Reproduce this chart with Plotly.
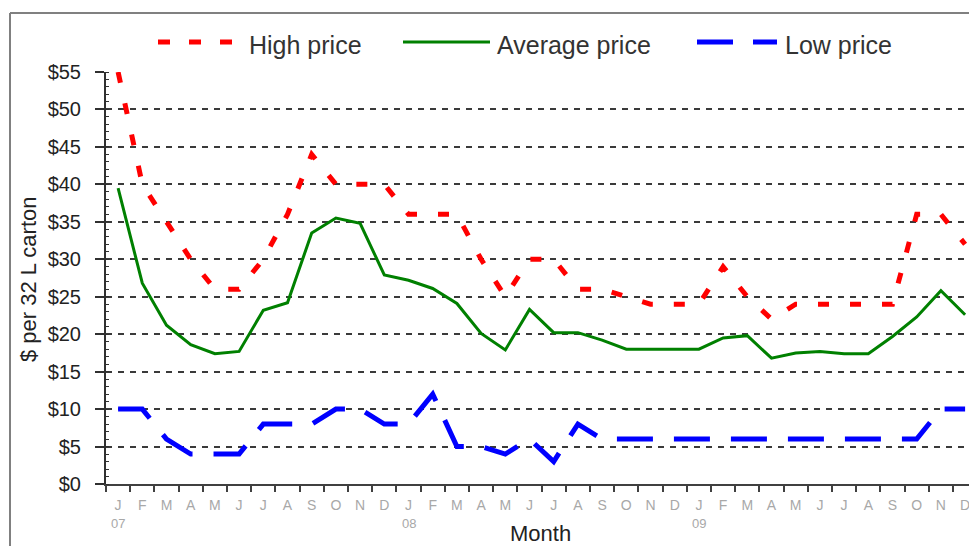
import plotly.graph_objects as go

# Monthly carton prices, Jan 2007 - Dec 2009
month_letters = ["J", "F", "M", "A", "M", "J", "J", "A", "S", "O", "N", "D"] * 3
year_labels = ["07", "08", "09"]
year_positions = [0, 12, 24]

high_price = [55, 40, 35, 30, 26, 26, 30, 36, 44, 40, 40, 40,
              36, 36, 36, 30, 25, 30, 30, 26, 26, 25, 24, 24,
              24, 29, 25, 22, 24, 24, 24, 24, 24, 36, 36, 32]
avg_price = [39.5, 26.8, 21.2, 18.6, 17.4, 17.7, 23.2, 24.2, 33.5, 35.5, 34.8, 27.9,
             27.2, 26.1, 24.1, 20.1, 17.9, 23.3, 20.2, 20.2, 19.2, 18.0, 18.0, 18.0,
             18.0, 19.5, 19.8, 16.8, 17.5, 17.7, 17.4, 17.4, 19.7, 22.3, 25.8, 22.6]
low_price = [10, 10, 6, 4, 4, 4, 8, 8, 8, 10, 10, 8,
             8, 12, 5, 5, 4, 6, 3, 8, 6, 6, 6, 6,
             6, 6, 6, 6, 6, 6, 6, 6, 6, 6, 10, 10]

x = list(range(len(month_letters)))

W, H = 969, 546
ML, MR, MT, MB = 106, 0, 72, 62
PW = W - ML - MR
PH = H - MT - MB
MONTH_PX = 24.2


def px_x(p):
    return (p - ML) / PW


def px_y(p):
    return (H - MB - p) / PH


FONT = "Liberation Sans, Arial, sans-serif"

fig = go.Figure()
fig.add_trace(go.Scatter(x=x, y=high_price, mode="lines", name="High price",
                         line=dict(color="#ff0000", width=5, dash="11px,21px")))
fig.add_trace(go.Scatter(x=x, y=avg_price, mode="lines", name="Average price",
                         line=dict(color="#008000", width=3)))
fig.add_trace(go.Scatter(x=x, y=low_price, mode="lines", name="Low price",
                         line=dict(color="#0000ff", width=5, dash="36px,21px")))

x_end = -0.5 + PW / MONTH_PX

fig.update_xaxes(
    range=[-0.5, x_end],
    tickmode="array", tickvals=x, ticktext=month_letters,
    tickfont=dict(family=FONT, size=14, color="#a8a8a8"),
    ticks="", ticklabelstandoff=7, ticklabeloverflow="allow",
    showline=True, linecolor="#404040", linewidth=2,
    showgrid=False, zeroline=False,
    minor=dict(tick0=-0.5, dtick=1, ticks="outside", ticklen=6,
               tickwidth=2, tickcolor="#404040", showgrid=False),
)
fig.update_yaxes(
    range=[0, 55], tickmode="linear", tick0=0, dtick=5,
    tickprefix="$",
    tickfont=dict(family=FONT, size=20, color="#222222"),
    ticks="outside", ticklen=9, tickwidth=2, tickcolor="#303030",
    ticklabelstandoff=10,
    showline=True, linecolor="#303030", linewidth=2,
    showgrid=True, gridcolor="#3a3a3a", gridwidth=1.5, griddash="6px,6px",
    zeroline=False,
    minor=dict(dtick=1, ticks="inside", ticklen=3, tickwidth=1,
               tickcolor="#303030", showgrid=False),
)

annotations = []
for lbl, pos in zip(year_labels, year_positions):
    annotations.append(dict(x=pos, y=px_y(523), xref="x", yref="paper",
                            text=lbl, showarrow=False,
                            font=dict(family=FONT, size=13, color="#a8a8a8"),
                            xanchor="center", yanchor="middle"))
annotations.append(dict(x=px_x(540), y=px_y(533), xref="paper", yref="paper",
                        text="Month", showarrow=False,
                        font=dict(family=FONT, size=22, color="#222222"),
                        xanchor="center", yanchor="middle"))
annotations.append(dict(x=px_x(28), y=px_y(279), xref="paper", yref="paper",
                        text="$ per 32 L carton", showarrow=False, textangle=-90,
                        font=dict(family=FONT, size=22, color="#222222"),
                        xanchor="center", yanchor="middle"))

# Legend drawn across the top
legend_items = [
    ("High price", "#ff0000", 5, "12px,19px", 158, 232, 247),
    ("Average price", "#008000", 3, "solid", 403, 490, 495),
    ("Low price", "#0000ff", 5, "36px,20px", 697, 777, 783),
]
shapes = []
for name, color, width, dash, x0, x1, tx in legend_items:
    shapes.append(dict(type="line", xref="paper", yref="paper",
                       x0=px_x(x0), x1=px_x(x1), y0=px_y(42), y1=px_y(42),
                       line=dict(color=color, width=width, dash=dash)))
    annotations.append(dict(x=px_x(tx), y=px_y(45), xref="paper", yref="paper",
                            text=name, showarrow=False,
                            font=dict(family=FONT, size=25, color="#333333"),
                            xanchor="left", yanchor="middle"))

# Outer frame
shapes.append(dict(type="line", xref="paper", yref="paper",
                   x0=px_x(10), x1=px_x(975), y0=px_y(13), y1=px_y(13),
                   line=dict(color="#808080", width=2)))
shapes.append(dict(type="line", xref="paper", yref="paper",
                   x0=px_x(10), x1=px_x(10), y0=px_y(13), y1=px_y(550),
                   line=dict(color="#808080", width=2)))

fig.update_layout(
    width=W, height=H, autosize=False,
    margin=dict(l=ML, r=MR, t=MT, b=MB, pad=0),
    paper_bgcolor="white", plot_bgcolor="white",
    showlegend=False,
    annotations=annotations, shapes=shapes,
    font=dict(family=FONT),
)

fig.write_html("out.html")
